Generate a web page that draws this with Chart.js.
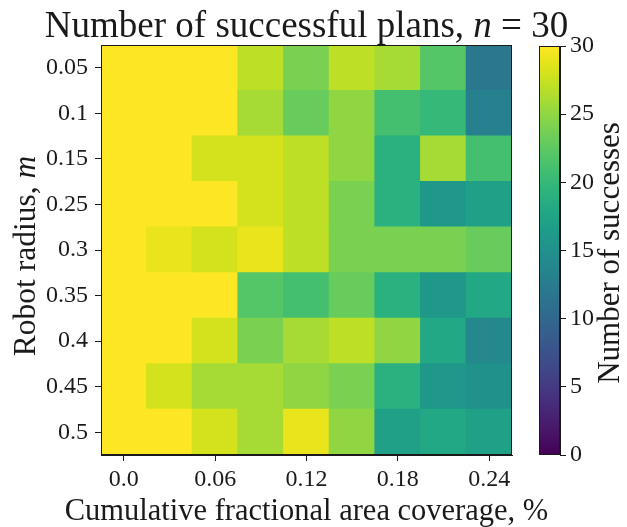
<!DOCTYPE html>
<html>
<head>
<meta charset="utf-8">
<script src="https://cdn.jsdelivr.net/npm/chart.js@4/dist/chart.umd.min.js"></script>
<style>
  html, body { margin: 0; padding: 0; background: #fff; }
  #wrap { position: relative; width: 627px; height: 527px; }
  #heat { position: absolute; left: 0; top: 0; }
  #cbar { position: absolute; left: 520px; top: 0; }
</style>
</head>
<body>
<div id="wrap">
  <canvas id="heat" width="627" height="527"></canvas>
  <canvas id="cbar" width="107" height="527"></canvas>
</div>
<script>
// coverage (columns) and robot radius (rows)
const coverage = [0.0, 0.03, 0.06, 0.09, 0.12, 0.15, 0.18, 0.21, 0.24];
const radii = ['0.05', '0.1', '0.15', '0.25', '0.3', '0.35', '0.4', '0.45', '0.5'];
const xTickIdx = [0, 2, 4, 6, 8];
const xTickLabels = ['0.0', '0.06', '0.12', '0.18', '0.24'];

// successes out of n = 30, one row per radius
const r005 = [30, 30, 30, 27, 24, 27, 26, 22, 12];
const r010 = [30, 30, 30, 26, 23, 25, 21, 20, 13];
const r015 = [30, 30, 28, 28, 27, 25, 19, 26, 21];
const r025 = [30, 30, 30, 28, 27, 24, 19, 16, 17];
const r030 = [30, 29, 28, 29, 27, 24, 24, 24, 23];
const r035 = [30, 30, 30, 22, 21, 23, 19, 16, 18];
const r040 = [30, 30, 28, 24, 26, 27, 25, 18, 14];
const r045 = [30, 28, 26, 26, 25, 24, 19, 16, 15];
const r050 = [30, 30, 28, 26, 29, 25, 17, 18, 17];
const successes = [r005, r010, r015, r025, r030, r035, r040, r045, r050];

const cbTicks = [0, 5, 10, 15, 20, 25, 30];
const vmin = 0, vmax = 30;

// viridis, 21 stops
const viridis = ['#440154', '#471365', '#482475', '#463480', '#414487', '#3b528b', '#355f8d',
  '#2f6c8e', '#2a788e', '#25848e', '#21918c', '#1e9c89', '#22a884', '#2fb47c', '#44bf70',
  '#5ec962', '#7ad151', '#9bd93c', '#bddf26', '#dfe318', '#fde725'];

function hex2rgb(h) {
  return [parseInt(h.slice(1, 3), 16), parseInt(h.slice(3, 5), 16), parseInt(h.slice(5, 7), 16)];
}
function cmap(v) {
  let t = (v - vmin) / (vmax - vmin);
  t = Math.max(0, Math.min(1, t)) * (viridis.length - 1);
  const i = Math.min(Math.floor(t), viridis.length - 2);
  const f = t - i;
  const a = hex2rgb(viridis[i]), b = hex2rgb(viridis[i + 1]);
  const c = a.map((x, k) => Math.round(x + (b[k] - x) * f));
  return `rgb(${c[0]},${c[1]},${c[2]})`;
}

const serif = "'Liberation Serif', 'DejaVu Serif', serif";
const ink = '#1a1a1a';
const tickSize = 24;

// draw a run of text pieces (some italic), centred on x, sitting on baseline y
function drawRich(ctx, parts, size, x, y, rot) {
  ctx.save();
  ctx.translate(x, y);
  ctx.rotate(rot || 0);
  ctx.fillStyle = ink;
  ctx.textBaseline = 'alphabetic';
  ctx.textAlign = 'left';
  let total = 0;
  parts.forEach(p => {
    ctx.font = (p.it ? 'italic ' : '') + size + 'px ' + serif;
    total += ctx.measureText(p.t).width;
  });
  let cx = -total / 2;
  parts.forEach(p => {
    ctx.font = (p.it ? 'italic ' : '') + size + 'px ' + serif;
    ctx.fillText(p.t, cx, 0);
    cx += ctx.measureText(p.t).width;
  });
  ctx.restore();
}

const frame = {
  id: 'frame',
  afterDraw(chart) {
    const a = chart.chartArea, ctx = chart.ctx;
    ctx.save();
    ctx.strokeStyle = ink;
    ctx.lineWidth = 1;
    ctx.strokeRect(Math.round(a.left) + 0.5, Math.round(a.top) + 0.5,
      Math.round(a.right - a.left) - 1, Math.round(a.bottom - a.top) - 1);
    ctx.restore();
  }
};

// heatmap cells
const cells = [];
const cellColors = [];
successes.forEach((row, r) => {
  row.forEach((v, c) => {
    cells.push({ x: c, y: [r, r + 1], v: v });
    cellColors.push(cmap(v));
  });
});

new Chart(document.getElementById('heat'), {
  type: 'bar',
  data: {
    datasets: [{
      data: cells,
      backgroundColor: cellColors,
      borderWidth: 0,
      inflateAmount: 0.6,
      barPercentage: 1,
      categoryPercentage: 1
    }]
  },
  options: {
    responsive: false,
    animation: false,
    layout: { padding: { left: 0, right: 115, top: 45, bottom: 0 } },
    plugins: { legend: { display: false }, tooltip: { enabled: false } },
    scales: {
      x: {
        type: 'linear',
        min: -0.5,
        max: 8.5,
        offset: false,
        afterBuildTicks: s => { s.ticks = xTickIdx.map(v => ({ value: v })); },
        afterFit: s => { s.height = 72; },
        ticks: {
          autoSkip: false,
          maxRotation: 0,
          padding: 4,
          color: ink,
          font: { family: serif, size: tickSize },
          callback: v => xTickLabels[xTickIdx.indexOf(v)]
        },
        grid: { offset: false, drawOnChartArea: false, drawTicks: true, tickLength: 6, color: ink },
        border: { display: true, color: ink },
        title: { display: false }
      },
      y: {
        type: 'linear',
        min: 0,
        max: 9,
        reverse: true,
        afterBuildTicks: s => { s.ticks = radii.map((_, i) => ({ value: i + 0.5 })); },
        afterFit: s => { s.width = 101; },
        ticks: {
          autoSkip: false,
          padding: 7,
          color: ink,
          font: { family: serif, size: tickSize },
          callback: v => radii[Math.round(v - 0.5)]
        },
        grid: { drawOnChartArea: false, drawTicks: true, tickLength: 6, color: ink },
        border: { display: true, color: ink }
      }
    }
  },
  plugins: [frame, {
    id: 'titles',
    afterDraw(chart) {
      const ctx = chart.ctx, a = chart.chartArea;
      const mid = (a.left + a.right) / 2;
      drawRich(ctx, [{ t: 'Number of successful plans, ' }, { t: 'n', it: true }, { t: ' = 30' }],
        37, mid, 37, 0);
      drawRich(ctx, [{ t: 'Cumulative fractional area coverage, %' }], 30.5, mid, 520, 0);
      drawRich(ctx, [{ t: 'Robot radius, ' }, { t: 'm', it: true }],
        31.5, 35, 256, -Math.PI / 2);
    }
  }]
});

// colorbar
new Chart(document.getElementById('cbar'), {
  type: 'bar',
  data: {
    labels: ['cb'],
    datasets: [{
      data: [[vmin, vmax]],
      borderWidth: 0,
      barPercentage: 1,
      categoryPercentage: 1,
      backgroundColor: ctx => {
        const chart = ctx.chart;
        if (!chart.chartArea) return viridis[10];
        const ys = chart.scales.y;
        const g = chart.ctx.createLinearGradient(0, ys.getPixelForValue(vmin), 0, ys.getPixelForValue(vmax));
        viridis.forEach((c, i) => g.addColorStop(i / (viridis.length - 1), c));
        return g;
      }
    }]
  },
  options: {
    responsive: false,
    animation: false,
    layout: { padding: { left: 19, right: 0, top: 46, bottom: 72 } },
    plugins: { legend: { display: false }, tooltip: { enabled: false } },
    scales: {
      x: { display: false },
      y: {
        position: 'right',
        min: vmin,
        max: vmax,
        afterBuildTicks: s => { s.ticks = cbTicks.map(v => ({ value: v })); },
        afterFit: s => { s.width = 67; },
        ticks: { padding: 4, color: ink, font: { family: serif, size: tickSize } },
        grid: { drawOnChartArea: false, drawTicks: true, tickLength: 6, color: ink },
        border: { display: true, color: ink }
      }
    }
  },
  plugins: [frame, {
    id: 'cbtitle',
    afterDraw(chart) {
      drawRich(chart.ctx, [{ t: 'Number of successes' }], 31, 99, 253, -Math.PI / 2);
    }
  }]
});
</script>
</body>
</html>
